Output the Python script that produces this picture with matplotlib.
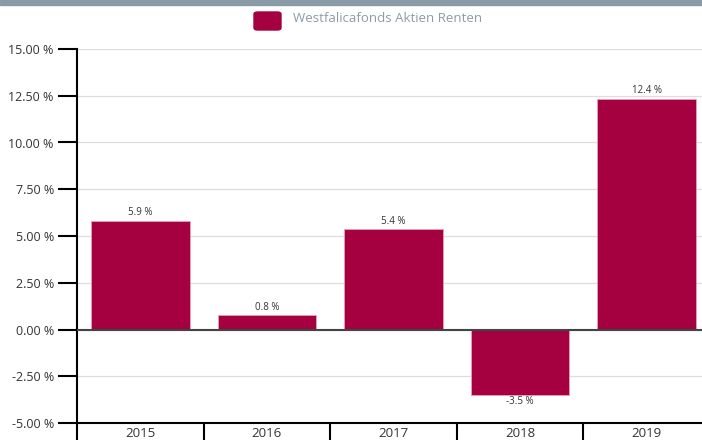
import matplotlib.pyplot as plt
from matplotlib.patches import Rectangle, FancyBboxPatch
from matplotlib.ticker import FixedLocator, FuncFormatter

years = ["2015", "2016", "2017", "2018", "2019"]
returns = [5.8, 0.75, 5.35, -3.48, 12.35]
bar_labels = ["5.9 %", "0.8 %", "5.4 %", "-3.5 %", "12.4 %"]
y_ticks = [-5.0, -2.5, 0.0, 2.5, 5.0, 7.5, 10.0, 12.5, 15.0]
series_name = "Westfalicafonds Aktien Renten"

bar_color = "#a5003f"
text_color = "#333333"

plt.rcParams["font.family"] = ["Open Sans", "DejaVu Sans"]

fig = plt.figure(figsize=(7.02, 4.4), dpi=100)
ax = fig.add_axes([77 / 702, 17 / 440, 633 / 702, 374 / 440])

x = list(range(len(years)))
ax.bar(x, returns, width=0.78, color=bar_color, edgecolor="#e8a0b8", linewidth=0.6, zorder=3)

for xi, v, lab in zip(x, returns, bar_labels):
    if v >= 0:
        ax.text(xi, v + 0.15, lab, ha="center", va="bottom", fontsize=7, color=text_color)
    else:
        ax.text(xi, v - 0.1, lab, ha="center", va="top", fontsize=7, color=text_color)

ax.set_xlim(-0.5, len(years) - 0.5)
ax.set_ylim(-5, 15)

# tick lengths in points (px * 0.72)
ax.set_yticks(y_ticks)
ax.yaxis.set_major_formatter(FuncFormatter(lambda v, p: f"{v:.2f} %"))
ax.tick_params(axis="y", length=13.7, width=1.5, color="black", labelsize=9, labelcolor=text_color, pad=3)
ax.grid(axis="y", color="#dddddd", linewidth=0.9, zorder=0)
ax.axhline(0, color="#444444", linewidth=1.5, zorder=4)

ax.set_xticks(x)
ax.set_xticklabels(years)
ax.xaxis.set_minor_locator(FixedLocator([i - 0.5 for i in range(len(years) + 1)]))
ax.tick_params(axis="x", which="major", length=0, labelsize=9.5, labelcolor=text_color, pad=3)
ax.tick_params(axis="x", which="minor", length=12.5, width=1.5, color="black")

for side in ["top", "right"]:
    ax.spines[side].set_visible(False)
ax.spines["left"].set_linewidth(1.5)
ax.spines["bottom"].set_linewidth(1.5)

# top band
fig.patches.append(Rectangle((0, 1 - 5 / 440), 1, 5 / 440, transform=fig.transFigure,
                             color="#8a9ba8", zorder=10))

# legend
fig.patches.append(FancyBboxPatch((254 / 702, 1 - 30 / 440), 27 / 702, 18 / 440,
                                  boxstyle="round,pad=0,rounding_size=0.005",
                                  transform=fig.transFigure, color=bar_color))
fig.text(293 / 702, 1 - 19 / 440, series_name, ha="left", va="center",
         fontsize=9.5, color="#8c9ba8")

fig.savefig("out.png", dpi=100)
